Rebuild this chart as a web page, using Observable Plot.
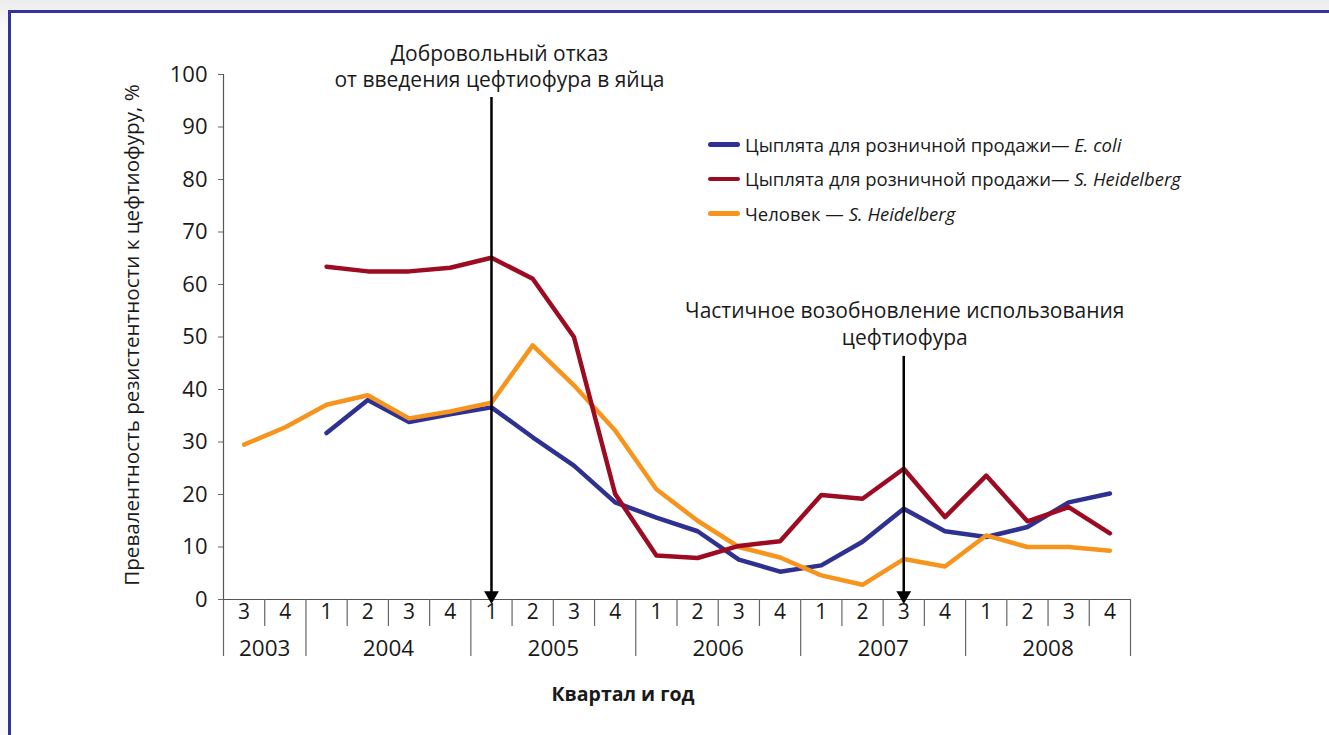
<!DOCTYPE html>
<html><head><meta charset="utf-8">
<script src="https://cdn.jsdelivr.net/npm/d3@7"></script>
<script src="https://cdn.jsdelivr.net/npm/@observablehq/plot@0.6"></script>
<style>
html,body{margin:0;padding:0;width:1329px;height:735px;overflow:hidden;background:linear-gradient(#ececec,#fafafa 30px);font-family:"Open Sans",sans-serif;color:#1a1a1a;}
#frame{position:absolute;left:8px;top:10px;width:1340px;height:740px;background:#fff;border-left:3px solid #333399;border-top:3px solid #333399;}
#chart{position:absolute;left:0;top:0;}
#legend{position:absolute;left:708px;top:127px;}
.row{display:flex;align-items:center;height:34.5px;font-size:18.5px;white-space:pre;}
.sw{display:inline-block;width:32px;height:4.5px;border-radius:3px;margin-right:5px;}
</style></head><body>
<div id="frame"></div><div id="chart"></div><div id="legend"></div>
<script>
// ---- data ----
const quarterLabels = ["3","4","1","2","3","4","1","2","3","4","1","2","3","4","1","2","3","4","1","2","3","4"];
const quarterYears = [2003,2003,2004,2004,2004,2004,2005,2005,2005,2005,2006,2006,2006,2006,2007,2007,2007,2007,2008,2008,2008,2008];
const years = [2003,2004,2005,2006,2007,2008];
const ecoliRetail = [null,null,31.7,38.0,33.8,35.3,36.6,30.9,25.5,18.5,15.6,13.0,7.6,5.3,6.5,11.0,17.3,13.0,11.9,13.8,18.5,20.2];
const heidRetail = [null,null,63.4,62.5,62.5,63.2,65.1,61.1,50.0,20.1,8.4,7.9,10.2,11.1,19.9,19.2,24.9,15.7,23.6,14.9,17.6,12.6];
const heidHuman = [29.5,32.8,37.1,38.9,34.5,35.8,37.5,48.4,40.8,32.2,21.0,15.0,10.0,8.0,4.6,2.8,7.7,6.3,12.2,10.0,10.0,9.3];
const seriesNames = ["Цыплята для розничной продажи— ", "Цыплята для розничной продажи— ", "Человек — "];
const seriesItalic = ["E. coli", "S. Heidelberg", "S. Heidelberg"];
const seriesColors = ["#2e3192", "#9d0b22", "#f7941d"];
const annotationIndex = [6, 16];
const annotationText = ["Добровольный отказ\nот введения цефтиофура в яйца", "Частичное возобновление использования\nцефтиофура"];
const annotationTop = [95.6, 46.3];
const yTicks = [0,10,20,30,40,50,60,70,80,90,100];
const yTitle = "Превалентность резистентности к цефтиофуру, %";
const xTitle = "Квартал и год";

// ---- build ----
const seriesValues = [ecoliRetail, heidRetail, heidHuman];
const rows = [];
seriesValues.forEach((vals, s) => vals.forEach((v, i) => { if (v != null) rows.push({s, i, v}); }));
const idx = d3.range(quarterLabels.length);
const bounds = d3.range(quarterLabels.length + 1);
const isYearBound = b => b === 0 || b === quarterLabels.length || quarterYears[b] !== quarterYears[b - 1];
const yearCenters = years.map(y => {
  const ii = idx.filter(i => quarterYears[i] === y);
  return {y, x: d3.mean(ii) + 0.5};
});
const drawOrder = [0, 2, 1];

const plot = Plot.plot({
  width: 1329, height: 735,
  marginLeft: 223, marginRight: 199, marginTop: 74, marginBottom: 136,
  style: {fontFamily: "'Open Sans', sans-serif", fontSize: "20px", background: "transparent", color: "#1a1a1a", overflow: "visible"},
  x: {domain: [0, quarterLabels.length], axis: null},
  y: {domain: [0, 100], axis: null},
  marks: [
    Plot.axisY({ticks: yTicks, tickSize: 5, tickPadding: 11, fontSize: 22, label: null, stroke: "#666", fill: "#1a1a1a"}),
    Plot.ruleX([0], {stroke: "#555", strokeWidth: 1.2}),
    Plot.ruleY([0], {stroke: "#555", strokeWidth: 1.2}),
    Plot.ruleX(bounds.filter(b => !isYearBound(b)), {x: d => d, y1: 0, y2: 0, insetBottom: -27, stroke: "#666", strokeWidth: 1.2}),
    Plot.ruleX(bounds.filter(isYearBound), {x: d => d, y1: 0, y2: 0, insetBottom: -57, stroke: "#666", strokeWidth: 1.2}),
    Plot.text(idx, {x: i => i + 0.5, text: i => quarterLabels[i], frameAnchor: "bottom", dy: 19, fontSize: 21, fill: "#1a1a1a"}),
    Plot.text(yearCenters, {x: "x", text: d => String(d.y), frameAnchor: "bottom", dy: 56, fontSize: 22.5, fill: "#1a1a1a"}),
    ...drawOrder.map(s => Plot.line(rows.filter(r => r.s === s), {x: r => r.i + 0.5, y: "v", stroke: seriesColors[s], strokeWidth: 4.5, strokeLinejoin: "round", strokeLinecap: "round"})),
    Plot.ruleX(d3.range(annotationIndex.length), {x: k => annotationIndex[k] + 0.5, y1: k => annotationTop[k], y2: 0, insetBottom: 6, stroke: "#000", strokeWidth: 2.5}),
    Plot.dot(annotationIndex, {x: i => i + 0.5, y: 0, symbol: "triangle", rotate: 180, r: 5.5, fill: "#000", stroke: "none", dy: -4}),
    Plot.text([0], {x: k => annotationIndex[k] + 0.5, y: k => annotationTop[k], text: k => annotationText[k], lineAnchor: "bottom", lineHeight: 1.22, dy: -11, dx: 8, fontSize: 21, fill: "#1a1a1a"}),
    Plot.text([1], {x: k => annotationIndex[k] + 0.5, y: k => annotationTop[k], text: k => annotationText[k], lineAnchor: "bottom", lineHeight: 1.3, dy: -11, dx: 1, fontSize: 21, fill: "#1a1a1a"}),
    Plot.text([yTitle], {frameAnchor: "left", textAnchor: "middle", rotate: -90, dx: -91, dy: -2, fontSize: 20.6, fill: "#1a1a1a"}),
    Plot.text([xTitle], {frameAnchor: "bottom", textAnchor: "middle", dy: 101, dx: -54, fontSize: 19.5, fontWeight: "bold", fill: "#1a1a1a"})
  ]
});
document.getElementById("chart").appendChild(plot);

const legend = document.getElementById("legend");
seriesNames.forEach((n, s) => {
  const row = document.createElement("div");
  row.className = "row";
  const sw = document.createElement("span");
  sw.className = "sw"; sw.style.background = seriesColors[s];
  const t = document.createElement("span");
  t.appendChild(document.createTextNode(n));
  const it = document.createElement("i");
  it.textContent = seriesItalic[s];
  t.appendChild(it);
  row.append(sw, t);
  legend.appendChild(row);
});
</script>
</body></html>
